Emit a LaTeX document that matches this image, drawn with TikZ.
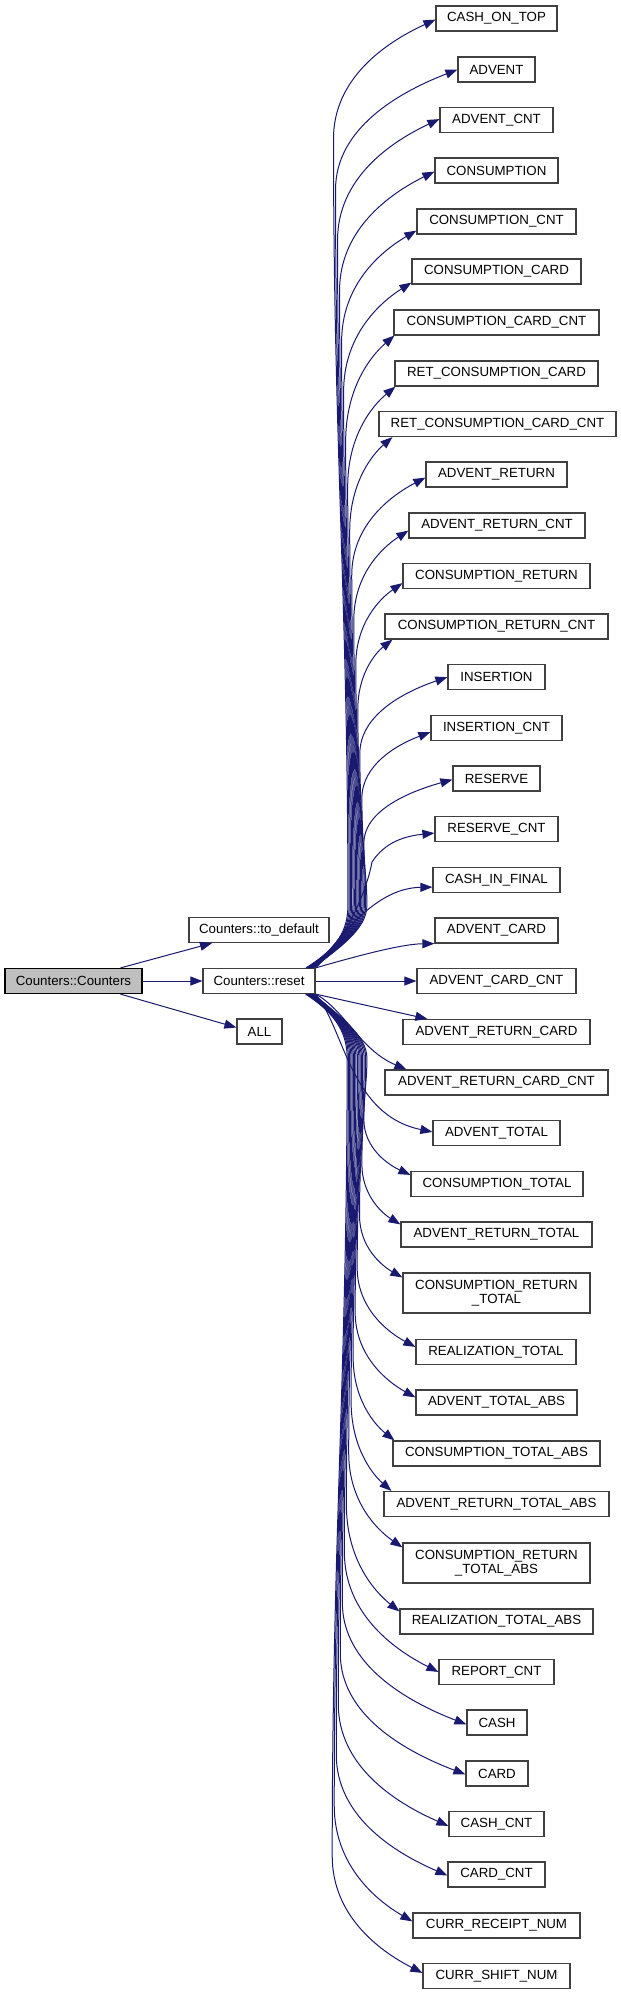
\documentclass[tikz,border=0pt]{standalone}
\usepackage{fontspec}
\setmainfont{Liberation Sans}
\usetikzlibrary{arrows.meta}
\definecolor{edgeblue}{HTML}{191970}
\definecolor{boxgray}{HTML}{404040}
\definecolor{fillgray}{HTML}{BFBFBF}
\begin{document}
\begin{tikzpicture}[x=1pt,y=-1pt,
  box/.style={draw=boxgray, line width=1.2pt, minimum height=25pt, inner sep=0pt,
    font=\fontsize{13.3}{14}\selectfont, align=center},
  edge/.style={draw=edgeblue, line width=1pt, -{Triangle[length=12pt,width=9pt,fill=edgeblue]}}]
\useasboundingbox (0,0) rectangle (621,1995);

% left nodes
\node[box, fill=fillgray, draw=black, minimum width=137pt] (cc) at (73.5,981) {Counters::Counters};
\node[box, minimum width=140pt] (td) at (259,930) {Counters::to\_default};
\node[box, minimum width=112pt] (rs) at (259,981) {Counters::reset};
\node[box, minimum width=45pt] (all) at (259.5,1031.5) {ALL};

% right column
\node[box, minimum width=121pt] (n1) at (496.5,18.5) {CASH\_ON\_TOP};
\node[box, minimum width=77pt] (n2) at (496.5,69.5) {ADVENT};
\node[box, minimum width=113pt] (n3) at (496.5,120) {ADVENT\_CNT};
\node[box, minimum width=123pt] (n4) at (496.5,170.5) {CONSUMPTION};
\node[box, minimum width=159pt] (n5) at (496.5,221.5) {CONSUMPTION\_CNT};
\node[box, minimum width=169pt] (n6) at (496.5,271.5) {CONSUMPTION\_CARD};
\node[box, minimum width=205pt] (n7) at (496.5,322.5) {CONSUMPTION\_CARD\_CNT};
\node[box, minimum width=203pt] (n8) at (496.5,373.5) {RET\_CONSUMPTION\_CARD};
\node[box, minimum width=237pt] (n9) at (497.5,424) {RET\_CONSUMPTION\_CARD\_CNT};
\node[box, minimum width=141pt] (n10) at (496.5,474.5) {ADVENT\_RETURN};
\node[box, minimum width=176pt] (n11) at (497,525.5) {ADVENT\_RETURN\_CNT};
\node[box, minimum width=187pt] (n12) at (496.5,576) {CONSUMPTION\_RETURN};
\node[box, minimum width=223pt] (n13) at (496.5,626.5) {CONSUMPTION\_RETURN\_CNT};
\node[box, minimum width=97pt] (n14) at (496.5,677) {INSERTION};
\node[box, minimum width=131pt] (n15) at (496.5,728) {INSERTION\_CNT};
\node[box, minimum width=87pt] (n16) at (496.5,778.5) {RESERVE};
\node[box, minimum width=123pt] (n17) at (496.5,829) {RESERVE\_CNT};
\node[box, minimum width=127pt] (n18) at (496.5,880) {CASH\_IN\_FINAL};
\node[box, minimum width=123pt] (n19) at (496.5,930.5) {ADVENT\_CARD};
\node[box, minimum width=159pt] (n20) at (496.5,981) {ADVENT\_CARD\_CNT};
\node[box, minimum width=187pt] (n21) at (496.5,1032) {ADVENT\_RETURN\_CARD};
\node[box, minimum width=223pt] (n22) at (496.5,1082.5) {ADVENT\_RETURN\_CARD\_CNT};
\node[box, minimum width=127pt] (n23) at (496.5,1133) {ADVENT\_TOTAL};
\node[box, minimum width=172pt] (n24) at (497,1184) {CONSUMPTION\_TOTAL};
\node[box, minimum width=191pt] (n25) at (496.5,1234.5) {ADVENT\_RETURN\_TOTAL};
\node[box, minimum width=187pt, minimum height=40pt] (n26) at (496.5,1293) {CONSUMPTION\_RETURN\\\_TOTAL};
\node[box, minimum width=160pt] (n27) at (496,1352) {REALIZATION\_TOTAL};
\node[box, minimum width=161pt] (n28) at (496.5,1402.5) {ADVENT\_TOTAL\_ABS};
\node[box, minimum width=207pt] (n29) at (496.5,1453.5) {CONSUMPTION\_TOTAL\_ABS};
\node[box, minimum width=225pt] (n30) at (496.5,1504) {ADVENT\_RETURN\_TOTAL\_ABS};
\node[box, minimum width=187pt, minimum height=40pt] (n31) at (496.5,1563) {CONSUMPTION\_RETURN\\\_TOTAL\_ABS};
\node[box, minimum width=193pt] (n32) at (496.5,1621.5) {REALIZATION\_TOTAL\_ABS};
\node[box, minimum width=115pt] (n33) at (496.5,1672) {REPORT\_CNT};
\node[box, minimum width=60pt] (n34) at (497,1722.5) {CASH};
\node[box, minimum width=62pt] (n35) at (497,1773.5) {CARD};
\node[box, minimum width=95pt] (n36) at (496.5,1824) {CASH\_CNT};
\node[box, minimum width=97pt] (n37) at (496.5,1874.5) {CARD\_CNT};
\node[box, minimum width=167pt] (n38) at (496.5,1925.5) {CURR\_RECEIPT\_NUM};
\node[box, minimum width=147pt] (n39) at (496.5,1976) {CURR\_SHIFT\_NUM};

% edges from Counters::Counters
\draw[edge] ([xshift=47pt]cc.north) -- ([xshift=-47pt]td.south);
\draw[edge] (cc.east) -- (rs.west);
\draw[edge] ([xshift=47pt]cc.south) -- ([yshift=4pt]all.west);

% near edges from reset
\draw[edge] (rs.east) -- (n20.west);
\draw[edge] (rs.north east) .. controls (350,958) and (400,944) .. (n19.south west);
\draw[edge] (rs.north east) .. controls (345,930) and (378,888) .. ([yshift=6pt]n18.south west);
\draw[edge] (rs.north east) .. controls (350,935) and (368,885) .. (372,862) .. controls (385,842) and (405,836) .. ([yshift=9pt]n17.south west);
\draw[edge] (rs.south east) -- ([xshift=25pt]n21.north west);
\draw[edge] (rs.south east) .. controls (345,1010) and (360,1050) .. ([xshift=22pt]n22.north west);
\draw[edge] (rs.south east) .. controls (345,1030) and (350,1115) .. ([yshift=-12pt]n23.north west);

% far edges upward
\foreach \i/\ty/\lx/\xs/\ys in {1/18.5/436/0/12, 2/69.5/458/0/13, 3/120/440/0/14,
  4/170.5/435/0/12, 5/221.5/417/0/4, 6/271.5/412/0/2, 7/322.5/394/1/0,
  8/373.5/395/1/0, 9/424/379/14/0, 10/474.5/426/0/10, 11/525.5/409/0/8,
  12/576/403/0/6, 13/626.5/385/8/0, 14/677/448/0/13, 15/728/431/0/9,
  16/778.5/453/0/12}{
  \pgfmathsetmacro\qdist{981-\ty}
  \pgfmathsetmacro\qxb{372-0.025*\qdist}
  \pgfmathsetmacro\qxm{\qxb-0.015*\qdist}
  \pgfmathsetmacro\qd{min(120,40+0.12*\qdist)}
  \pgfmathsetmacro\qMy{\ty+\qd}
  \pgfmathsetmacro\qex{\lx+\xs}
  \pgfmathsetmacro\qey{\ty+12.5-\ys}
  \pgfmathsetmacro\qA{905-0.4*(905-\qMy)}
  \pgfmathsetmacro\qB{\qMy+0.4*(905-\qMy)}
  \pgfmathsetmacro\qC{\qMy-0.5*(\qMy-\qey)}
  \pgfmathsetmacro\qDx{(\qxm+\qex)/2}
  \pgfmathsetmacro\qDy{\qey+0.2*(\qMy-\qey)}
  \pgfmathsetmacro\qsx{-0.01*\qdist}
  \draw[edge] ([xshift=\qsx]rs.north east) .. controls (338,948) and (\qxb,930) .. (\qxb,905)
     .. controls (\qxb,\qA) and (\qxm,\qB) .. (\qxm,\qMy)
     .. controls (\qxm,\qC) and (\qDx,\qDy) .. ([xshift=\xs,yshift=\ys]n\i.south west);
}

% far edges downward
\foreach \i/\ty/\lx/\xs/\ys/\hh in {24/1184/411/0/4/12.5, 25/1234.5/401/0/3/12.5,
  26/1293/403/0/5/20, 27/1352/416/0/8/12.5, 28/1402.5/416/0/8/12.5,
  29/1453.5/393/2/0/12.5, 30/1504/384/8/0/12.5, 31/1563/403/0/5/20,
  32/1621.5/400/0/3/12.5, 33/1672/439/0/13/12.5, 34/1722.5/467/0/15/12.5,
  35/1773.5/466/0/14/12.5, 36/1824/449/0/15/12.5, 37/1874.5/448/0/14/12.5,
  38/1925.5/413/0/9/12.5, 39/1976/423/0/10/12.5}{
  \pgfmathsetmacro\qdist{\ty-981}
  \pgfmathsetmacro\qxb{372-0.025*\qdist}
  \pgfmathsetmacro\qxm{\qxb-0.015*\qdist}
  \pgfmathsetmacro\qd{min(120,40+0.12*\qdist)}
  \pgfmathsetmacro\qMy{\ty-\qd}
  \pgfmathsetmacro\qex{\lx+\xs}
  \pgfmathsetmacro\qey{\ty-\hh+\ys}
  \pgfmathsetmacro\qA{1058+0.4*(\qMy-1058)}
  \pgfmathsetmacro\qB{\qMy-0.4*(\qMy-1058)}
  \pgfmathsetmacro\qC{\qMy+0.5*(\qey-\qMy)}
  \pgfmathsetmacro\qDx{(\qxm+\qex)/2}
  \pgfmathsetmacro\qDy{\qey-0.2*(\qey-\qMy)}
  \pgfmathsetmacro\qsx{-0.01*\qdist}
  \draw[edge] ([xshift=\qsx]rs.south east) .. controls (338,1015) and (\qxb,1035) .. (\qxb,1058)
     .. controls (\qxb,\qA) and (\qxm,\qB) .. (\qxm,\qMy)
     .. controls (\qxm,\qC) and (\qDx,\qDy) .. ([xshift=\xs,yshift=-\ys]n\i.north west);
}
\end{tikzpicture}
\end{document}
